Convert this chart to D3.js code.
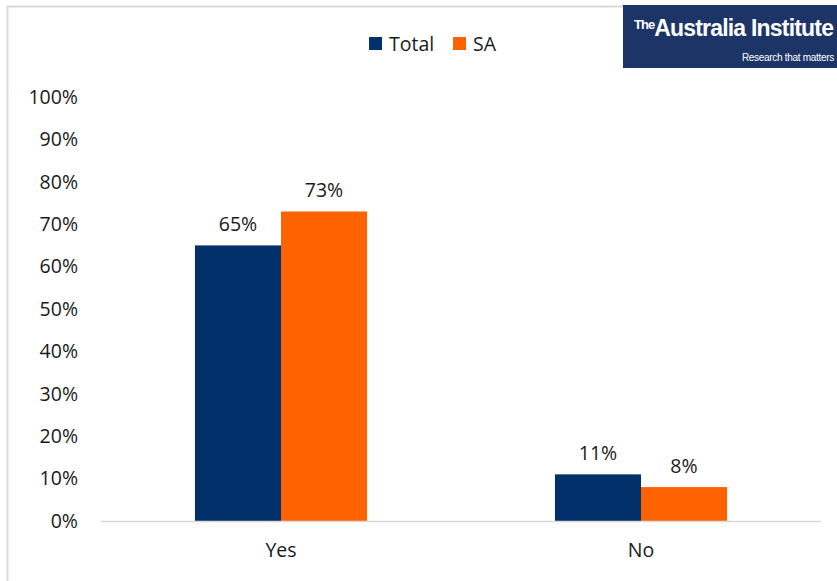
<!DOCTYPE html>
<html>
<head>
<meta charset="utf-8">
<script src="https://cdn.jsdelivr.net/npm/d3@7"></script>
<style>
  body { margin: 0; background: #fff; }
  svg { display: block; font-family: "Open Sans", "Liberation Sans", sans-serif; }
</style>
</head>
<body>
<svg id="chart" width="837" height="581"></svg>
<script>
// Survey answers, national total vs South Australia
const categories = ["Yes", "No"];
const seriesNames = ["Total", "SA"];
const totalValues = [65, 11];
const saValues = [73, 8];
const yTicks = [0, 10, 20, 30, 40, 50, 60, 70, 80, 90, 100];
const colors = ["#02306a", "#ff6200"];

const svg = d3.select("#chart");
const W = 837, H = 581;
const margin = { left: 101, right: 16, top: 97, bottom: 60 };
const plotW = W - margin.left - margin.right;
const plotH = H - margin.top - margin.bottom;
const fontSize = 19.5;

// Outer chart frame (only top and left edges fall inside the view)
svg.append("rect")
  .attr("x", 7.5).attr("y", 6.5)
  .attr("width", W).attr("height", H)
  .attr("fill", "none").attr("stroke", "#d9d9d9").attr("stroke-width", 2);

const g = svg.append("g").attr("transform", `translate(${margin.left},${margin.top})`);

const x0 = d3.scaleBand().domain(categories).range([0, plotW]).paddingInner(0.522).paddingOuter(0.261);
const x1 = d3.scaleBand().domain(seriesNames).range([0, x0.bandwidth()]);
const y = d3.scaleLinear().domain([0, 100]).range([plotH, 0]);

// Y axis labels
const yAxis = d3.axisLeft(y).tickValues(yTicks).tickFormat(d => d + "%").tickSize(0).tickPadding(23);
g.append("g").call(yAxis)
  .call(s => s.select(".domain").remove())
  .selectAll("text")
  .attr("font-size", fontSize).attr("fill", "#1a1a1a")
  .attr("font-family", "\"Open Sans\", sans-serif");

// Bars
const rows = categories.map((c, i) => ({ cat: c, vals: [totalValues[i], saValues[i]] }));
const groups = g.selectAll(".grp").data(rows).enter().append("g")
  .attr("transform", d => `translate(${x0(d.cat)},0)`);

groups.selectAll("rect").data(d => d.vals.map((v, j) => ({ v, s: seriesNames[j], j })))
  .enter().append("rect")
  .attr("x", d => x1(d.s))
  .attr("y", d => y(d.v))
  .attr("width", x1.bandwidth())
  .attr("height", d => plotH - y(d.v))
  .attr("fill", d => colors[d.j]);

groups.selectAll("text.val").data(d => d.vals.map((v, j) => ({ v, s: seriesNames[j] })))
  .enter().append("text")
  .attr("class", "val")
  .attr("x", d => x1(d.s) + x1.bandwidth() / 2)
  .attr("y", d => y(d.v) - 14)
  .attr("text-anchor", "middle")
  .attr("font-size", fontSize).attr("fill", "#1a1a1a")
  .text(d => d.v + "%");

// Baseline
g.append("line")
  .attr("x1", 0).attr("x2", plotW)
  .attr("y1", plotH + 0.5).attr("y2", plotH + 0.5)
  .attr("stroke", "#d9d9d9").attr("stroke-width", 1.5);

// Category labels
const xAxis = d3.axisBottom(x0).tickSize(0).tickPadding(22);
g.append("g").attr("transform", `translate(0,${plotH})`).call(xAxis)
  .call(s => s.select(".domain").remove())
  .selectAll("text")
  .attr("font-size", fontSize).attr("fill", "#1a1a1a")
  .attr("font-family", "\"Open Sans\", sans-serif");

// Legend
const legend = svg.append("g");
const legendX = [369, 453];
seriesNames.forEach((name, i) => {
  legend.append("rect").attr("x", legendX[i]).attr("y", 37).attr("width", 13).attr("height", 13).attr("fill", colors[i]);
  legend.append("text").attr("x", legendX[i] + 20).attr("y", 51)
    .attr("font-size", fontSize).attr("fill", "#1a1a1a").text(name);
});

// Institute banner
const logo = svg.append("g");
logo.append("rect").attr("x", 623).attr("y", 5).attr("width", 214).attr("height", 63).attr("fill", "#1d3467");
logo.append("text").attr("x", 634).attr("y", 36)
  .attr("font-family", "\"Liberation Sans Narrow\", \"Liberation Sans\", sans-serif")
  .attr("font-weight", "bold")
  .attr("fill", "#fff")
  .attr("font-size", 23)
  .attr("letter-spacing", -0.8)
  .html('<tspan font-size="13" dy="-7" letter-spacing="-1">The</tspan><tspan dy="7">Australia Institute</tspan>');
logo.append("text").attr("x", 834).attr("y", 61)
  .attr("text-anchor", "end")
  .attr("font-family", "\"Liberation Sans Narrow\", \"Liberation Sans\", sans-serif")
  .attr("fill", "#fff").attr("font-size", 10).attr("letter-spacing", -0.3)
  .text("Research that matters");
</script>
</body>
</html>
